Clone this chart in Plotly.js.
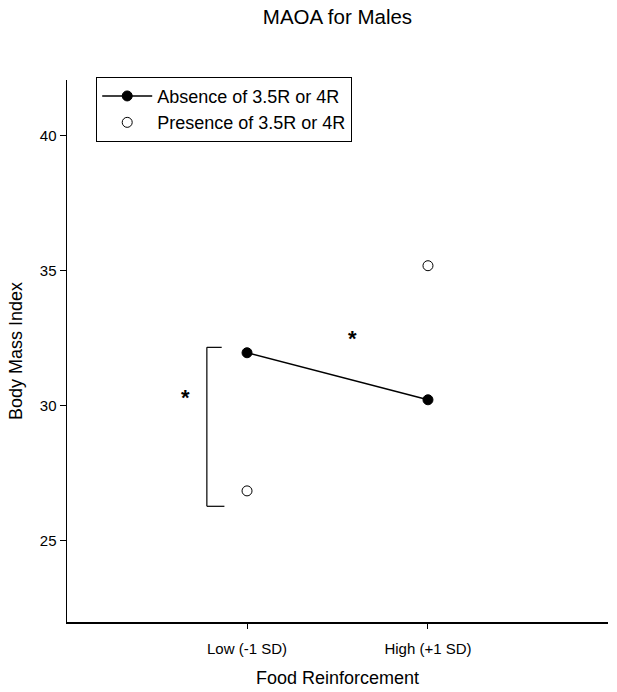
<!DOCTYPE html>
<html>
<head>
<meta charset="utf-8">
<script src="https://cdn.plot.ly/plotly-3.0.1.min.js"></script>
<style>html,body{margin:0;padding:0;background:#fff;}#chart{width:617px;height:692px;}</style>
</head>
<body>
<div id="chart"></div>
<script>
// Data
const categories = ["Low (-1 SD)", "High (+1 SD)"];
const xPositions = [0, 1];
const absenceValues = [31.96, 30.22];
const presenceValues = [26.85, 35.18];
const seriesNames = ["Absence of 3.5R or 4R", "Presence of 3.5R or 4R"];
const yTicks = [25, 30, 35, 40];
// significance annotation (bracket between groups at Low, star for interaction)
const bracketX = [-0.222, -0.125];
const bracketY = [26.28, 32.16];
const starLabels = ["*", "*"];
const starX = [-0.338, 0.585];
const starY = [30.3, 32.5];

const font = "Liberation Sans, Arial, sans-serif";

const traces = [
  {
    x: xPositions, y: absenceValues, name: seriesNames[0],
    type: "scatter", mode: "lines+markers",
    line: {color: "#000", width: 1.5},
    marker: {color: "#000", size: 10, symbol: "circle", line: {color: "#000", width: 1}}
  },
  {
    x: xPositions, y: presenceValues, name: seriesNames[1],
    type: "scatter", mode: "markers",
    marker: {color: "#fff", size: 10, symbol: "circle", line: {color: "#000", width: 1}}
  }
];

const shapes = [
  {type: "line", xref: "x", yref: "y", x0: bracketX[0], x1: bracketX[0], y0: bracketY[0], y1: bracketY[1], line: {color: "#000", width: 1.2}},
  {type: "line", xref: "x", yref: "y", x0: bracketX[0], x1: bracketX[1] - 0.015, y0: bracketY[1], y1: bracketY[1], line: {color: "#000", width: 1.2}},
  {type: "line", xref: "x", yref: "y", x0: bracketX[0], x1: bracketX[1], y0: bracketY[0], y1: bracketY[0], line: {color: "#000", width: 1.2}}
];

const annotations = starLabels.map((s, i) => ({
  x: starX[i], y: starY[i], xref: "x", yref: "y", text: "<b>" + s + "</b>", showarrow: false,
  font: {family: font, size: 22, color: "#000"}
}));

const layout = {
  width: 617, height: 692,
  margin: {l: 67, r: 9, t: 80, b: 70},
  paper_bgcolor: "#fff", plot_bgcolor: "#fff",
  font: {family: font, color: "#000", size: 15},
  title: {text: "MAOA for Males", font: {family: font, size: 20.5, color: "#000"}, x: 0.547, xanchor: "center", y: 0.976, yanchor: "middle"},
  showlegend: true,
  legend: {
    x: 0.054, y: 1.006, xanchor: "left", yanchor: "top",
    bordercolor: "#000", borderwidth: 1, bgcolor: "#fff",
    font: {family: font, size: 18, color: "#000"},
    tracegroupgap: 0, itemwidth: 50
  },
  xaxis: {
    range: [-0.995, 1.995],
    tickmode: "array", tickvals: xPositions, ticktext: categories,
    ticks: "outside", ticklen: 5, tickwidth: 1, tickcolor: "#000",
    ticklabelstandoff: 7,
    showline: true, linecolor: "#000", linewidth: 1.5,
    showgrid: false, zeroline: false,
    tickfont: {family: font, size: 15, color: "#000"},
    title: {text: "Food Reinforcement", font: {family: font, size: 18, color: "#000"}, standoff: 16}
  },
  yaxis: {
    range: [22, 42.05],
    tickmode: "array", tickvals: yTicks,
    ticks: "outside", ticklen: 6, tickwidth: 1, tickcolor: "#000",
    showline: true, linecolor: "#000", linewidth: 1.5,
    showgrid: false, zeroline: false,
    tickfont: {family: font, size: 15, color: "#000"},
    title: {text: "Body Mass Index", font: {family: font, size: 18, color: "#000"}, standoff: 12}
  },
  shapes: shapes,
  annotations: annotations
};

Plotly.newPlot("chart", traces, layout, {displayModeBar: false, staticPlot: true});
</script>
</body>
</html>
